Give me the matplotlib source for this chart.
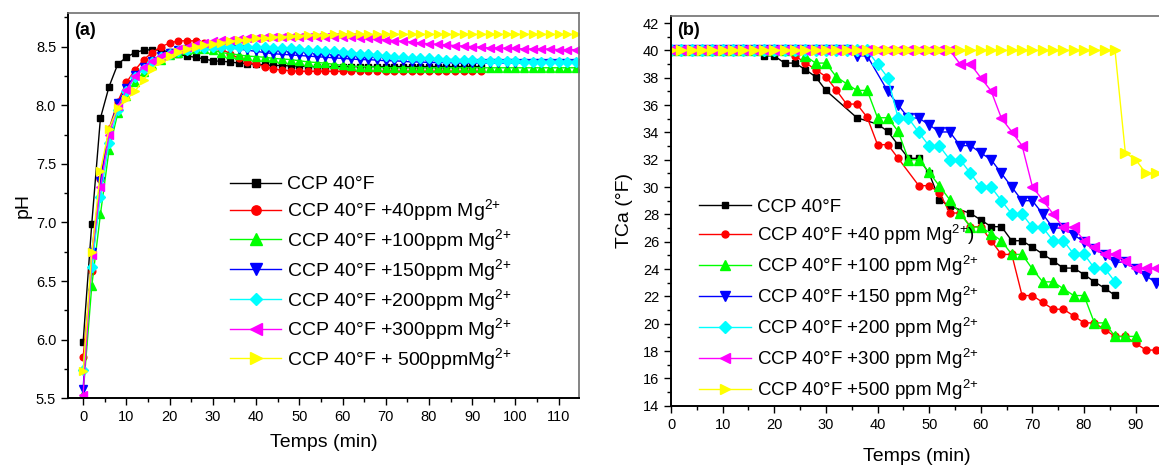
import matplotlib
matplotlib.use("Agg")
import matplotlib.pyplot as plt
from matplotlib.ticker import MultipleLocator

plt.rcParams['font.family'] = ['Liberation Sans', 'DejaVu Sans']
plt.rcParams['mathtext.fontset'] = 'custom'
plt.rcParams['mathtext.rm'] = 'Liberation Sans'
plt.rcParams['mathtext.it'] = 'Liberation Sans:italic'
plt.rcParams['mathtext.bf'] = 'Liberation Sans:bold'

# ---------------- Panel (a): pH vs time ----------------
t_a_long = list(range(0, 116, 2))      # 0..114
t_a_short = list(range(0, 94, 2))      # 0..92

ph_ccp = [5.98, 6.99, 7.89, 8.16, 8.35, 8.41, 8.45, 8.47, 8.475, 8.47,
          8.455, 8.435, 8.42, 8.41, 8.395, 8.38, 8.375, 8.37, 8.36, 8.355,
          8.35, 8.345, 8.34, 8.34, 8.335, 8.335, 8.33, 8.33, 8.33, 8.33,
          8.33, 8.33, 8.33, 8.33, 8.33, 8.33, 8.33, 8.33, 8.33, 8.33,
          8.33, 8.33, 8.33, 8.33, 8.33, 8.33, 8.33]
ph_40 = [5.85, 6.59, 7.37, 7.80, 8.03, 8.195, 8.30, 8.39, 8.45, 8.50,
         8.53, 8.55, 8.55, 8.55, 8.53, 8.51, 8.48, 8.44, 8.40, 8.37,
         8.35, 8.33, 8.31, 8.30, 8.295, 8.29, 8.29, 8.29, 8.29, 8.29,
         8.29, 8.29, 8.29, 8.29, 8.29, 8.29, 8.29, 8.29, 8.29, 8.29,
         8.29, 8.29, 8.29, 8.29, 8.29, 8.29, 8.29]
ph_100 = [5.54, 6.46, 7.07, 7.62, 7.93, 8.08, 8.20, 8.28, 8.34, 8.39,
          8.43, 8.45, 8.47, 8.48, 8.48, 8.47, 8.45, 8.44, 8.43, 8.42,
          8.415, 8.41, 8.40, 8.395, 8.39, 8.38, 8.37, 8.365, 8.36, 8.35,
          8.34, 8.335, 8.33, 8.33, 8.325, 8.32, 8.32, 8.32, 8.32, 8.32,
          8.32, 8.32, 8.32, 8.32, 8.32, 8.32, 8.32, 8.32, 8.32, 8.32,
          8.32, 8.32, 8.32, 8.32, 8.32, 8.32, 8.32, 8.32]
ph_150 = [5.58, 6.75, 7.35, 7.78, 8.02, 8.15, 8.26, 8.33, 8.38, 8.42,
          8.45, 8.47, 8.48, 8.49, 8.50, 8.50, 8.50, 8.49, 8.48, 8.47,
          8.46, 8.45, 8.44, 8.435, 8.43, 8.425, 8.42, 8.415, 8.41, 8.405,
          8.40, 8.395, 8.39, 8.39, 8.385, 8.38, 8.38, 8.375, 8.37, 8.37,
          8.365, 8.365, 8.365, 8.36, 8.36, 8.36, 8.36, 8.36, 8.36, 8.36,
          8.36, 8.36, 8.36, 8.36, 8.36, 8.36, 8.36, 8.36]
ph_200 = [5.74, 6.62, 7.22, 7.68, 7.96, 8.12, 8.24, 8.31, 8.37, 8.41,
          8.44, 8.46, 8.475, 8.485, 8.49, 8.495, 8.50, 8.50, 8.50, 8.50,
          8.50, 8.495, 8.49, 8.49, 8.485, 8.48, 8.475, 8.47, 8.465, 8.46,
          8.455, 8.45, 8.44, 8.435, 8.43, 8.42, 8.415, 8.41, 8.405, 8.40,
          8.40, 8.395, 8.39, 8.39, 8.385, 8.385, 8.38, 8.38, 8.375, 8.375,
          8.375, 8.37, 8.37, 8.37, 8.37, 8.37, 8.37, 8.37]
ph_300 = [5.53, 6.72, 7.30, 7.75, 7.99, 8.13, 8.25, 8.33, 8.38, 8.42,
          8.45, 8.48, 8.50, 8.52, 8.53, 8.545, 8.555, 8.56, 8.565, 8.57,
          8.575, 8.58, 8.58, 8.58, 8.58, 8.58, 8.58, 8.58, 8.58, 8.58,
          8.58, 8.58, 8.575, 8.57, 8.565, 8.56, 8.55, 8.545, 8.54, 8.53,
          8.525, 8.52, 8.515, 8.51, 8.505, 8.50, 8.495, 8.49, 8.49, 8.485,
          8.485, 8.48, 8.48, 8.48, 8.48, 8.475, 8.475, 8.475]
ph_500 = [5.73, 6.745, 7.44, 7.80, 7.98, 8.05, 8.12, 8.22, 8.31, 8.38,
          8.42, 8.455, 8.48, 8.50, 8.515, 8.525, 8.535, 8.545, 8.555, 8.56,
          8.57, 8.575, 8.58, 8.585, 8.59, 8.595, 8.60, 8.60, 8.60, 8.605,
          8.605, 8.605, 8.605, 8.605, 8.605, 8.605, 8.605, 8.605, 8.605, 8.605,
          8.605, 8.605, 8.605, 8.605, 8.605, 8.605, 8.605, 8.605, 8.605, 8.605,
          8.605, 8.605, 8.605, 8.605, 8.605, 8.605, 8.605, 8.605]

SUP = r"$^{\mathregular{2{+}}}$"
labels_a = ["CCP 40°F",
            "CCP 40°F +40ppm Mg" + SUP,
            "CCP 40°F +100ppm Mg" + SUP,
            "CCP 40°F +150ppm Mg" + SUP,
            "CCP 40°F +200ppm Mg" + SUP,
            "CCP 40°F +300ppm Mg" + SUP,
            "CCP 40°F + 500ppmMg" + SUP]

# ---------------- Panel (b): TCa vs time ----------------
tb_ccp = [0, 2, 4, 6, 8, 10, 12, 14, 16, 18, 20, 22, 24, 26, 28, 30, 36, 40,
          42, 44, 46, 48, 50, 52, 54, 58, 60, 62, 64, 66, 68, 70, 72, 74, 76,
          78, 80, 82, 84, 86]
tca_ccp = [40, 40, 40, 40, 40, 40, 40, 40, 40, 39.6, 39.6, 39.07, 39.07,
           38.6, 38.07, 37.07, 35.07, 34.6, 34.07, 33.07, 32.1, 32.1, 31.0,
           29.07, 28.6, 28.07, 27.6, 27.1, 27.1, 26.07, 26.07, 25.6, 25.1,
           24.6, 24.07, 24.07, 23.6, 23.07, 22.6, 22.07]

tb_40 = [0, 2, 4, 6, 8, 10, 12, 14, 16, 18, 20, 22, 24, 26, 28, 30, 32, 34,
         36, 38, 40, 42, 44, 48, 50, 52, 54, 56, 58, 60, 62, 64, 66, 68, 70,
         72, 74, 76, 78, 80, 82, 84, 86, 88, 90, 92, 94]
tca_40 = [40, 40, 40, 40, 40, 40, 40, 40, 40, 40, 40, 40, 39.6, 39.1, 38.6,
          38.07, 37.1, 36.07, 36.07, 35.1, 33.1, 33.1, 32.1, 30.1, 30.1,
          29.6, 28.1, 28.1, 27.1, 27.1, 26.07, 25.07, 25.07, 22.06, 22.06,
          21.56, 21.06, 21.06, 20.57, 20.06, 20.06, 19.57, 19.07, 19.07,
          18.56, 18.07, 18.07]

tb_100 = list(range(0, 92, 2))
tca_100 = [40, 40, 40, 40, 40, 40, 40, 40, 40, 40, 40, 40, 40, 39.6, 39.07,
           39.07, 38.07, 37.56, 37.07, 37.07, 35.07, 35.07, 34.07, 32.0, 32.0,
           31.07, 30.07, 29.07, 28.07, 27.07, 27.07, 26.6, 26.07, 25.07, 25.07,
           24.0, 23.06, 23.06, 22.56, 22.06, 22.06, 20.06, 20.06, 19.07, 19.07,
           19.07]

tb_150 = [0, 2, 4, 6, 8, 10, 12, 14, 16, 18, 20, 22, 24, 26, 28, 30, 32, 34,
          36, 38, 42, 44, 46, 48, 50, 52, 54, 56, 58, 60, 62, 64, 66, 68, 70,
          72, 74, 76, 78, 80, 82, 84, 86, 88, 90, 92, 94]
tca_150 = [40, 40, 40, 40, 40, 40, 40, 40, 40, 40, 40, 40, 40, 40, 40, 40,
           40, 40, 39.6, 39.6, 37.0, 36.0, 35.05, 35.05, 34.55, 34.03, 34.03,
           33.03, 33.03, 32.5, 32.0, 31.0, 30.0, 29.0, 29.0, 28.03, 27.0,
           27.0, 26.5, 26.0, 25.5, 25.0, 24.5, 24.5, 24.0, 23.5, 23.0]

tb_200 = list(range(0, 88, 2))
tca_200 = [40, 40, 40, 40, 40, 40, 40, 40, 40, 40, 40, 40, 40, 40, 40, 40,
           40, 40, 40, 40, 39.0, 38.0, 35.03, 35.03, 34.0, 33.0, 33.0, 32.0,
           32.0, 31.0, 30.0, 30.0, 29.0, 28.03, 28.03, 27.05, 27.05, 26.07,
           26.07, 25.1, 25.1, 24.05, 24.05, 23.07]

tb_300 = list(range(0, 96, 2))
tca_300 = [40, 40, 40, 40, 40, 40, 40, 40, 40, 40, 40, 40, 40, 40, 40, 40,
           40, 40, 40, 40, 40, 40, 40, 40, 40, 40, 40, 40, 39.0, 39.0, 38.0,
           37.03, 35.03, 34.05, 33.03, 30.02, 29.05, 28.03, 27.05, 27.05,
           26.07, 25.6, 25.1, 25.1, 24.6, 24.05, 24.05, 24.05]

tb_500 = list(range(0, 96, 2))
tca_500 = [40] * 44 + [32.5, 32.0, 31.0, 31.0]

labels_b = ["CCP 40°F",
            "CCP 40°F +40 ppm Mg" + SUP + ")",
            "CCP 40°F +100 ppm Mg" + SUP,
            "CCP 40°F +150 ppm Mg" + SUP,
            "CCP 40°F +200 ppm Mg" + SUP,
            "CCP 40°F +300 ppm Mg" + SUP,
            "CCP 40°F +500 ppm Mg" + SUP]

colors = ['#000000', '#FF0000', '#00FF00', '#0000FF', '#00FFFF', '#FF00FF', '#FFFF00']
markers = ['s', 'o', '^', 'v', 'D', '<', '>']

fig = plt.figure(figsize=(11.59, 4.66), dpi=100)
W, H = 1159.0, 466.0
ax1 = fig.add_axes([68 / W, (H - 398.3) / H, (579 - 68) / W, (398.3 - 12.7) / H])
ax2 = fig.add_axes([671 / W, (H - 405.7) / H, 491 / W, (405.7 - 16.2) / H])

# ----- panel (a)
series_a = [(t_a_short, ph_ccp), (t_a_short, ph_40), (t_a_long, ph_100),
            (t_a_long, ph_150), (t_a_long, ph_200), (t_a_long, ph_300),
            (t_a_long, ph_500)]
ms_a = [4.2, 4.8, 5.8, 5.8, 4.6, 5.8, 5.8]
for (x, y), c, m, ms, lab in zip(series_a, colors, markers, ms_a, labels_a):
    ax1.plot(x[:len(y)], y, color=c, marker=m, ms=ms, lw=1.0, mec=c, mfc=c,
             label=lab)
ax1.set_xlim(-3.5, 114.7)
ax1.set_ylim(5.5, 8.79)
ax1.xaxis.set_major_locator(MultipleLocator(10))
ax1.xaxis.set_minor_locator(MultipleLocator(5))
ax1.yaxis.set_major_locator(MultipleLocator(0.5))
ax1.yaxis.set_minor_locator(MultipleLocator(0.25))
ax1.set_xlabel("Temps (min)", fontsize=14, labelpad=7)
ax1.set_ylabel("pH", fontsize=14, labelpad=3)
ax1.text(0.012, 0.975, "(a)", transform=ax1.transAxes, fontsize=13,
         fontweight='bold', va='top', ha='left')
leg1 = ax1.legend(loc='upper left', bbox_to_anchor=(0.318, 0.577), frameon=False,
                  fontsize=14, handlelength=2.6, handletextpad=0.3,
                  labelspacing=0.2, borderaxespad=0, borderpad=0,
                  markerscale=1.4)

# ----- panel (b)
series_b = [(tb_ccp, tca_ccp), (tb_40, tca_40), (tb_100, tca_100),
            (tb_150, tca_150), (tb_200, tca_200), (tb_300, tca_300),
            (tb_500, tca_500)]
ms_b = [4.2, 5.0, 7.5, 7.5, 5.8, 7.5, 7.5]
for (x, y), c, m, ms, lab in zip(series_b, colors, markers, ms_b, labels_b):
    ax2.plot(x, y, color=c, marker=m, ms=ms, lw=1.0, mec=c, mfc=c, label=lab)
ax2.set_xlim(0, 95.1)
ax2.set_ylim(14, 42.5)
ax2.xaxis.set_major_locator(MultipleLocator(10))
ax2.xaxis.set_minor_locator(MultipleLocator(5))
ax2.yaxis.set_major_locator(MultipleLocator(2))
ax2.yaxis.set_minor_locator(MultipleLocator(1))
ax2.set_xlabel("Temps (min)", fontsize=14, labelpad=12)
ax2.set_ylabel("TCa (°F)", fontsize=14, labelpad=7)
ax2.text(0.012, 0.985, "(b)", transform=ax2.transAxes, fontsize=13,
         fontweight='bold', va='top', ha='left')
leg2 = ax2.legend(loc='upper left', bbox_to_anchor=(0.058, 0.532), frameon=False,
                  fontsize=13.5, handlelength=2.75, handletextpad=0.3,
                  labelspacing=0.37, borderaxespad=0, borderpad=0)

for ax in (ax1, ax2):
    ax.tick_params(which='both', direction='out', top=False, right=False,
                   labelsize=10.5, width=1.0)
    ax.tick_params(which='major', length=5)
    ax.tick_params(which='minor', length=3)
    ax.spines['left'].set_linewidth(1.4)
    ax.spines['bottom'].set_linewidth(1.4)
    for s in ('top', 'right'):
        ax.spines[s].set_color('#707070')
        ax.spines[s].set_linewidth(1.2)

fig.savefig("out.png", dpi=100)
